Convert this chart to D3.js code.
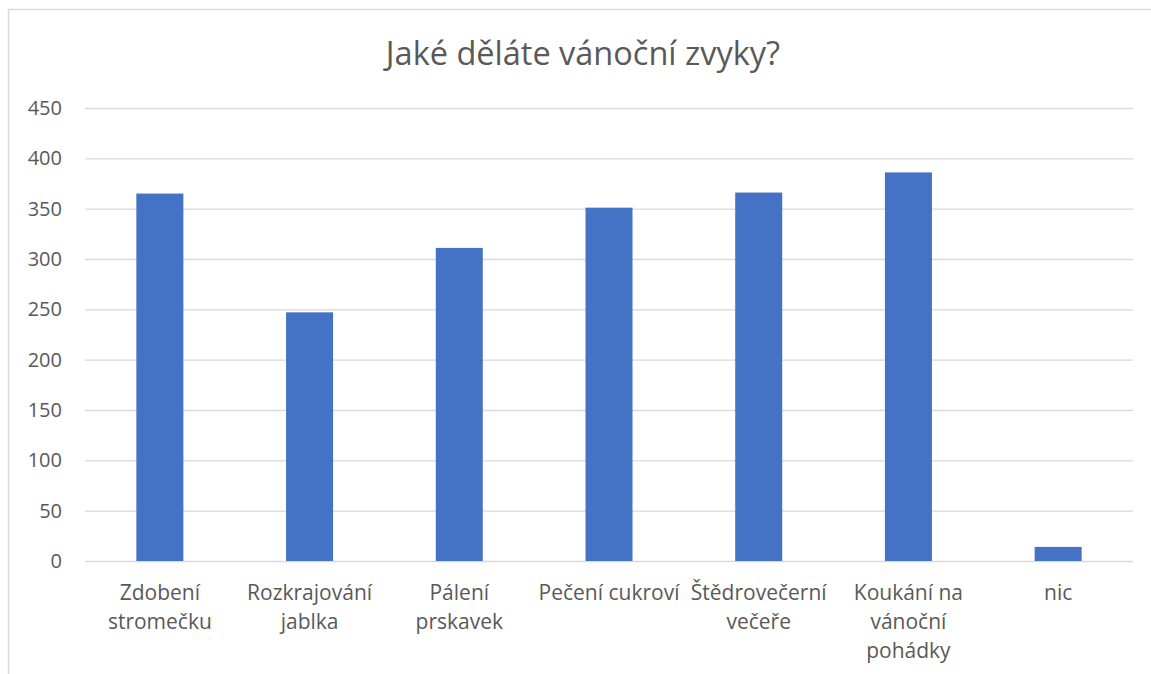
<!DOCTYPE html>
<html>
<head>
<meta charset="utf-8">
<script src="https://cdn.jsdelivr.net/npm/d3@7"></script>
<style>
  body { margin: 0; background: #fff; }
  text { font-family: "Open Sans", sans-serif; fill: #595959; }
</style>
</head>
<body>
<div id="chart"></div>
<script>
var title = "Jaké děláte vánoční zvyky?";
var categories = ["Zdobení stromečku", "Rozkrajování jablka", "Pálení prskavek", "Pečení cukroví", "Štědrovečerní večeře", "Koukání na vánoční pohádky", "nic"];
var values = [365, 247, 311, 351, 366, 386, 14];
var yTicks = [0, 50, 100, 150, 200, 250, 300, 350, 400, 450];

(function() {
  var W = 1151, H = 674;
  var margin = { top: 108, left: 85, right: 18, bottom: 113 },
    width = W - margin.left - margin.right,
    height = H - margin.top - margin.bottom;

  var svg = d3.select("#chart")
    .append("svg")
    .attr("width", W)
    .attr("height", H);

  // outer chart border (runs off the right/bottom edge)
  svg.append("rect")
    .attr("x", 8.5)
    .attr("y", 9.5)
    .attr("width", W + 20)
    .attr("height", H + 20)
    .attr("fill", "none")
    .attr("stroke", "#d9d9d9")
    .attr("stroke-width", 1.5);

  svg.append("text")
    .attr("x", 583)
    .attr("y", 65)
    .attr("text-anchor", "middle")
    .style("font-size", "32.5px")
    .text(title);

  var g = svg.append("g")
    .attr("transform", "translate(" + margin.left + "," + margin.top + ")");

  var x = d3.scaleBand()
    .domain(categories)
    .range([0, width])
    .paddingInner(0.686)
    .paddingOuter(0.343);

  var y = d3.scaleLinear()
    .domain([0, 450])
    .range([height, 0]);

  // gridlines + y labels
  var yAxis = d3.axisLeft(y)
    .tickValues(yTicks)
    .tickSize(-width)
    .tickPadding(23);

  g.append("g")
    .attr("class", "y-axis")
    .call(yAxis)
    .call(function(a) {
      a.select(".domain").remove();
      a.selectAll(".tick line").attr("stroke", "#d9d9d9").attr("stroke-width", 1.3);
      a.selectAll(".tick text")
        .style("font-size", "20px")
        .style("font-family", "'Open Sans', sans-serif")
        .attr("fill", "#595959");
    });

  g.selectAll(".bar")
    .data(values)
    .enter().append("rect")
    .attr("class", "bar")
    .attr("x", function(d, i) { return x(categories[i]); })
    .attr("y", function(d) { return y(d); })
    .attr("width", x.bandwidth())
    .attr("height", function(d) { return height - y(d); })
    .attr("fill", "#4472c4");

  // category labels, wrapped to the band step
  var step = x.step();
  var labels = g.append("g")
    .selectAll("text")
    .data(categories)
    .enter().append("text")
    .attr("text-anchor", "middle")
    .attr("x", function(d) { return x(d) + x.bandwidth() / 2; })
    .attr("y", height + 39)
    .style("font-size", "21px");

  labels.each(function(d) {
    var t = d3.select(this);
    var words = d.split(" ");
    var lines = [], cur = [];
    words.forEach(function(w) {
      cur.push(w);
      t.text(cur.join(" "));
      if (this.getComputedTextLength() > step && cur.length > 1) {
        cur.pop();
        lines.push(cur.join(" "));
        cur = [w];
      }
    }, this);
    lines.push(cur.join(" "));
    t.text(null);
    lines.forEach(function(l, i) {
      t.append("tspan")
        .attr("x", t.attr("x"))
        .attr("dy", i === 0 ? 0 : 29)
        .text(l);
    });
  });
})();
</script>
</body>
</html>
